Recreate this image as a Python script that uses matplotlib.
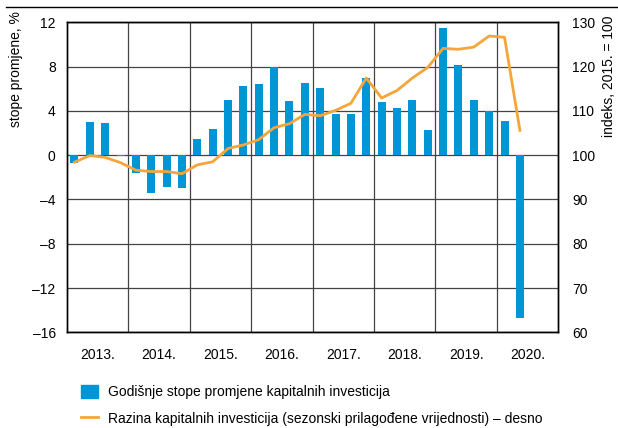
import matplotlib.pyplot as plt
from matplotlib.lines import Line2D
from matplotlib.patches import Patch
from matplotlib import font_manager

# quarterly data, 2013 Q1 - 2020 Q2
years = [2013, 2014, 2015, 2016, 2017, 2018, 2019, 2020]
year_labels = ["2013.", "2014.", "2015.", "2016.", "2017.", "2018.", "2019.", "2020."]

growth = [-0.7, 3.0, 2.9, -0.1,
          -1.6, -3.4, -2.9, -3.0,
          1.5, 2.4, 5.0, 6.2,
          6.4, 8.0, 4.9, 6.5,
          6.1, 3.7, 3.7, 7.0,
          4.8, 4.3, 5.0, 2.3,
          11.5, 8.1, 5.0, 4.0,
          3.1, -14.7]

level = [98.4, 99.9, 99.5, 98.3,
         96.6, 96.3, 96.3, 95.8,
         97.8, 98.5, 101.5, 102.3,
         103.5, 106.2, 107.1, 109.2,
         108.9, 110.1, 111.7, 117.4,
         112.9, 114.6, 117.4, 119.8,
         124.1, 123.9, 124.4, 126.9,
         126.6, 105.6]

left_ticks = [-16, -12, -8, -4, 0, 4, 8, 12]
right_ticks = [60, 70, 80, 90, 100, 110, 120, 130]

BLUE = "#0096d6"
ORANGE = "#f5a53a"

names = {f.name for f in font_manager.fontManager.ttflist}
font = "Liberation Sans Narrow" if "Liberation Sans Narrow" in names else "Liberation Sans"
plt.rcParams["font.family"] = [font, "DejaVu Sans"]
plt.rcParams["font.size"] = 10

x = [years[0] + (i + 0.5) / 4 for i in range(len(growth))]

fig = plt.figure(figsize=(6.18, 4.28), dpi=100)
ax = fig.add_axes([0.108, 0.2236, 0.7954, 0.7244])
ax2 = ax.twinx()

ax.bar(x, growth, width=0.13, color=BLUE, zorder=2)
ax.set_xlim(2013, 2021)
ax.set_ylim(-16, 12)
ax.set_yticks(left_ticks)
ax.set_yticklabels([str(t).replace("-", "\u2013") for t in left_ticks])
ax.set_xticks(range(2014, 2021))
ax.set_xticklabels([])
ax.set_xticks([y + 0.5 for y in years], minor=True)
ax.set_xticklabels(year_labels, minor=True)
ax.tick_params(which="both", length=0)
ax.tick_params(axis="x", which="minor", pad=11)
ax.tick_params(axis="y", pad=8)
ax.set_axisbelow(True)
ax.grid(True, which="major", color="#444444", linewidth=0.9)

ax2.plot(x, level, color=ORANGE, linewidth=2, zorder=3)
ax2.set_ylim(60, 130)
ax2.set_yticks(right_ticks)
ax2.tick_params(length=0, pad=10)

for a in (ax, ax2):
    for s in a.spines.values():
        s.set_color("black")
        s.set_linewidth(1)

fig.text(16 / 618, (428 - 127) / 428, "stope promjene, %", rotation=90,
         ha="center", va="bottom")
fig.text(609 / 618, (428 - 137) / 428, "indeks, 2015. = 100", rotation=90,
         ha="center", va="bottom")

# rule across the top
fig.add_artist(Line2D([0.01, 1.0], [1 - 7 / 428, 1 - 7 / 428],
                      color="black", linewidth=1))

handles = [Patch(color=BLUE), Line2D([0], [0], color=ORANGE, linewidth=2)]
labels = ["Godišnje stope promjene kapitalnih investicija",
          "Razina kapitalnih investicija (sezonski prilagođene vrijednosti) – desno"]
fig.legend(handles, labels, loc="lower left", bbox_to_anchor=(0.118, -0.014),
           frameon=False, handlelength=1.2, handleheight=1.0,
           handletextpad=0.7, labelspacing=0.9, borderaxespad=0.2)

fig.savefig("out.png", dpi=100)
